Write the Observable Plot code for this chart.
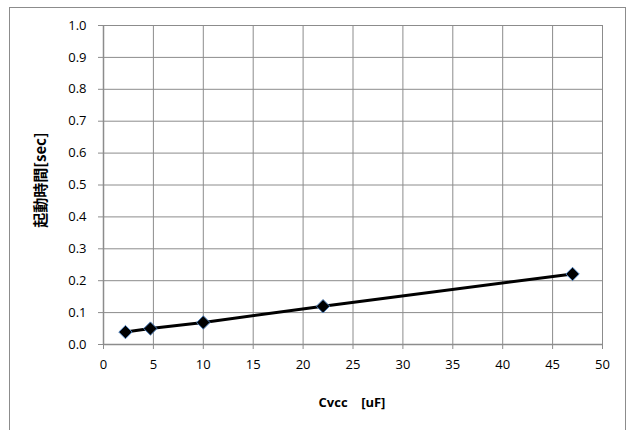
<!DOCTYPE html>
<html>
<head>
<meta charset="utf-8">
<script src="https://cdn.jsdelivr.net/npm/d3@7"></script>
<script src="https://cdn.jsdelivr.net/npm/@observablehq/plot@0.6"></script>
<style>
  html, body { margin: 0; padding: 0; background: #fff; overflow: hidden; }
  #wrap { position: relative; width: 629px; height: 430px; }
  #frame { position: absolute; left: 9px; top: 7px; width: 617px; height: 440px; border: 1px solid #8c8c8c; box-sizing: border-box; }
  #chart { position: absolute; left: 0; top: 0; }
</style>
</head>
<body>
<div id="wrap"><div id="frame"></div><div id="chart"></div></div>
<script>
const capacitance = [2.2, 4.7, 10, 22, 47];
const startTime = [0.039, 0.05, 0.069, 0.12, 0.221];
const xTicks = [0, 5, 10, 15, 20, 25, 30, 35, 40, 45, 50];
const yTicks = [0, 0.1, 0.2, 0.3, 0.4, 0.5, 0.6, 0.7, 0.8, 0.9, 1.0];
const xLabel = "Cvcc    [uF]";
const yLabel = "起動時間[sec]";

const data = capacitance.map((c, i) => ({c, t: startTime[i]}));
const font = "'Open Sans', 'Liberation Sans', sans-serif";

const plot = Plot.plot({
  width: 629,
  height: 430,
  marginLeft: 103,
  marginRight: 27,
  marginTop: 25,
  marginBottom: 86,
  style: {fontFamily: font, fontSize: "12px", color: "#000", background: "transparent"},
  x: {domain: [0, 50], ticks: xTicks, tickSize: 0, label: null},
  y: {domain: [0, 1], ticks: yTicks, tickSize: 0, label: null},
  marks: [
    Plot.gridX(xTicks, {stroke: "#8c8c8c", strokeOpacity: 1, strokeWidth: 1}),
    Plot.gridY(yTicks, {stroke: "#8c8c8c", strokeOpacity: 1, strokeWidth: 1}),
    Plot.axisX({ticks: xTicks, tickSize: 5, tickPadding: 10, stroke: "#8c8c8c", strokeOpacity: 1, tickFormat: d => String(d), fontSize: 13, label: null}),
    Plot.axisY({ticks: yTicks, tickSize: 5, tickPadding: 12, stroke: "#8c8c8c", strokeOpacity: 1, tickFormat: d => d.toFixed(1), fontSize: 13, label: null}),
    Plot.ruleY([0], {stroke: "#8c8c8c", strokeWidth: 1.5}),
    Plot.ruleX([0], {stroke: "#8c8c8c", strokeWidth: 1.5}),
    Plot.line(data, {x: "c", y: "t", stroke: "#000", strokeWidth: 3}),
    Plot.dot(data, {x: "c", y: "t", symbol: "diamond2", r: 6, fill: "#000", stroke: "#4f81bd", strokeWidth: 1})
  ]
});

const svg = d3.select(plot);
svg.append("text")
  .attr("x", 352).attr("y", 407)
  .attr("text-anchor", "middle")
  .style("font-family", font)
  .style("font-weight", "bold")
  .style("font-size", "13px")
  .style("white-space", "pre")
  .attr("xml:space", "preserve")
  .text(xLabel);
svg.append("text")
  .attr("transform", "translate(46,180) rotate(-90)")
  .attr("text-anchor", "middle")
  .style("font-family", "'Noto Sans CJK JP', sans-serif")
  .style("font-weight", "bold")
  .style("font-size", "15px")
  .text(yLabel);

document.getElementById("chart").appendChild(plot);
</script>
</body>
</html>
